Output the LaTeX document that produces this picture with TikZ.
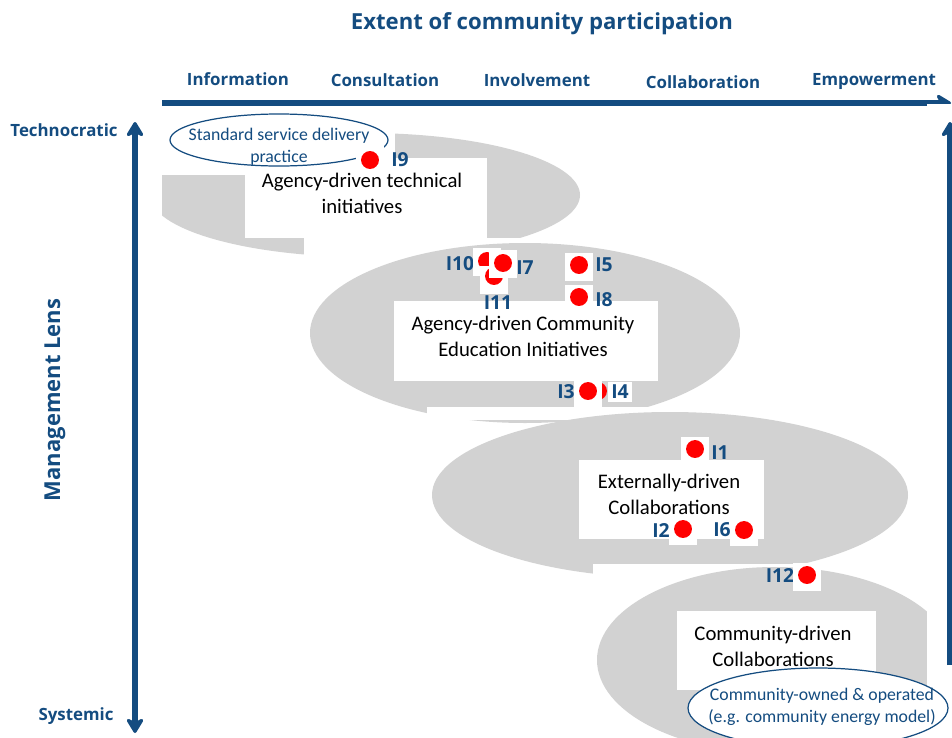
\documentclass[tikz,border=0pt]{standalone}
\usepackage{fontspec}
\setmainfont{Carlito}
\newfontfamily\headfont{Open Sans}
\usetikzlibrary{arrows.meta}
\definecolor{lensblue}{HTML}{144C80}
\definecolor{blobgray}{HTML}{D2D2D2}
\begin{document}
\begin{tikzpicture}[x=0.02cm, y=-0.02cm,
    blob/.style={fill=blobgray},
    cover/.style={fill=white},
    axis/.style={draw=lensblue, line width=3pt},
    tip/.style={-{Stealth[width=12pt,length=10pt,inset=3pt,round]}},
    bothtips/.style={{Stealth[width=12pt,length=10pt,inset=3pt,round]}-{Stealth[width=12pt,length=10pt,inset=3pt,round]}},
    ttl/.style={text=lensblue, font=\headfont\bfseries\fontsize{12.6}{14}\selectfont},
    head/.style={text=lensblue, font=\headfont\bfseries\fontsize{9.6}{11}\selectfont},
    lens/.style={text=lensblue, font=\headfont\bfseries\fontsize{12.5}{14}\selectfont},
    body/.style={align=center, font=\fontsize{11.8}{14.8}\selectfont},
    note/.style={align=center, text=lensblue, font=\fontsize{10.1}{12.4}\selectfont},
    dot/.style={circle, fill=red, inner sep=0pt, minimum size=10.2pt},
    dotbox/.style={fill=white, inner sep=0pt, minimum size=16pt},
    dotlab/.style={text=lensblue, inner sep=0pt, font=\headfont\bfseries\fontsize{11}{12}\selectfont}]
\useasboundingbox (0,0) rectangle (952,737);
% grey fields with the white boxes laid over them
\fill[blob] (365,195) ellipse [x radius=215, y radius=62];
\fill[cover] (140,102) rectangle (162,262);
\fill[cover] (162,102) rectangle (395,175);
\fill[cover] (245,158) rectangle (487,238);
\fill[cover] (304,238) rectangle (560,262);
\fill[blob] (525,333) ellipse [x radius=215, y radius=90];
\fill[cover] (394,301) rectangle (658,381);
\fill[cover] (427,407) rectangle (740,420);
\fill[blob] (670,495) ellipse [x radius=238, y radius=83];
\fill[cover] (579,460) rectangle (764,539);
\fill[cover] (593,564) rectangle (830,580);
\fill[blob] (775,660) ellipse [x radius=178, y radius=93];
\fill[cover] (677,611) rectangle (876,690);
% axes
\coordinate (hstart) at (162,103);
\coordinate (hend) at (951,103);
\draw[axis, tip] (hstart) -- (hend);
\fill[cover] (927,104) rectangle (952,737);
\coordinate (rlow) at (950,665);
\coordinate (rtop) at (950,122);
\draw[axis, tip] (rlow) -- (rtop);
\coordinate (vtop) at (135,122);
\coordinate (vlow) at (135,733);
\draw[axis, bothtips] (vtop) -- (vlow);
% axis texts
\node[ttl] (extent) at (542,24) {Extent of community participation};
\node[head] (info) at (238,79) {Information};
\node[head] (consult) at (385,80) {Consultation};
\node[head] (involve) at (537,80) {Involvement};
\node[head] (collab) at (703,82) {Collaboration};
\node[head] (empower) at (874,82) {Empowerment};
\node[head] (techno) at (64,130) {Technocratic};
\node[head] (systemic) at (76,716) {Systemic};
\node[lens, rotate=90] (lens) at (55,400) {Management Lens};
% field names
\node[body] (agtech) at (362,193) {Agency-driven technical\\initiatives};
\node[body] (agedu) at (523,336) {Agency-driven Community\\Education Initiatives};
\node[body] (excol) at (669,494) {Externally-driven\\Collaborations};
\node[body] (cocol) at (773,646) {Community-driven\\Collaborations};
% outlined notes
\node[note] (std) at (279,147) {Standard service delivery\\practice};
\draw[lensblue, line width=0.7pt] (279,140) ellipse [x radius=109, y radius=26];
\fill[white, draw=lensblue, line width=0.7pt] (818,708) ellipse [x radius=130, y radius=40];
\node[note] (owned) at (822,707) {Community-owned \& operated\\(e.g. community energy model)};
% initiative labels
\node[dotlab] (l9) at (400,160) {I9};
\node[dotlab] (l10) at (460,264) {I10};
\node[dotlab] (l7) at (525,268) {I7};
\node[dotlab] (l11) at (498,303) {I11};
\node[dotlab] (l5) at (604,265) {I5};
\node[dotlab] (l8) at (604,300) {I8};
\node[dotlab] (l3) at (566,392) {I3};
\node[dotlab] (l1) at (720,453) {I1};
\node[dotlab] (l2) at (661,530) {I2};
\node[dotlab] (l6) at (722,530) {I6};
\node[dotlab] (l12) at (780,575) {I12};
% initiatives
\node[dotbox] at (370,160) {};
\node[dot] (i9) at (370,160) {};
\node[dotbox] at (487,262) {};
\node[dot] (i10) at (487,261) {};
\node[dotbox] at (494,280) {};
\node[dot] (i11) at (494,276) {};
\node[dotbox] at (503,264) {};
\node[dot] (i7) at (503,263) {};
\node[dotbox] at (579,267) {};
\node[dot] (i5) at (579,265) {};
\node[dotbox] at (579,299) {};
\node[dot] (i8) at (579,297) {};
\node[dot] (i4) at (598,391) {};
\node[dotbox] at (588,393) {};
\node[dot] (i3) at (588,391) {};
\node[dotlab, fill=white, inner sep=2pt] (l4) at (620,392) {I4};
\node[dotbox] at (695,451) {};
\node[dot] (i1) at (695,449) {};
\node[dotbox] at (683,531) {};
\node[dot] (i2) at (683,529) {};
\node[dotbox] at (744,532) {};
\node[dot] (i6) at (744,530) {};
\node[dotbox] at (807,577) {};
\node[dot] (i12) at (807,575) {};
\end{tikzpicture}
\end{document}
